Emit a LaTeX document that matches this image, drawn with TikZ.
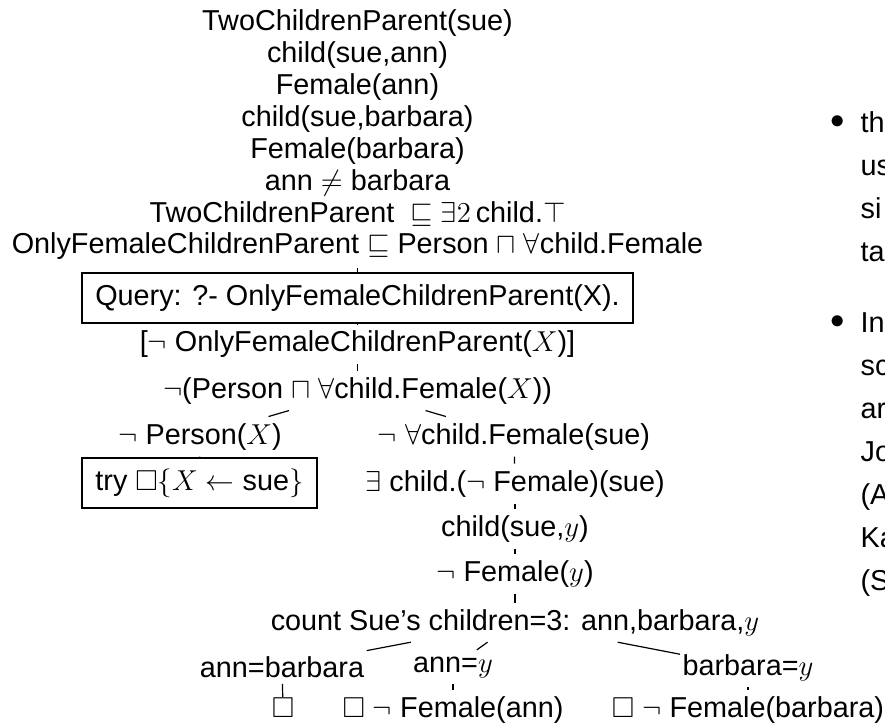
\documentclass[tikz,border=0pt]{standalone}
\usepackage{amssymb}
\usepackage[no-math]{fontspec}
\setmainfont{Liberation Sans}
\usetikzlibrary{matrix,positioning}

\begin{document}
\begin{tikzpicture}[x=0.5pt, y=-0.5pt, line width=0.6pt,
    font=\fontsize{14.4pt}{16pt}\selectfont,
    every node/.style={inner xsep=1pt, inner ysep=3pt},
    box/.style={draw, line width=0.9pt, minimum height=25pt},
    frag/.style={anchor=base west}]
  \useasboundingbox (0,0) rectangle (885,728);

  % knowledge base
  \matrix (F) at (357.5,1) [matrix of nodes, anchor=north, inner sep=3pt,
      nodes={inner sep=0pt, text height=11.5pt, text depth=3.5pt}, row sep=0.95pt] {
    TwoChildrenParent(sue) \\
    child(sue,ann) \\
    Female(ann) \\
    child(sue,barbara) \\
    Female(barbara) \\
    ann $\neq$ barbara \\
    TwoChildrenParent\ \ $\sqsubseteq \exists2$\,child.$\top$ \\
    OnlyFemaleChildrenParent $\sqsubseteq$ Person $\sqcap$ $\forall$child.Female \\
  };

  % tableau
  \node (Q) at (357.5,298) [box, minimum width=275.5pt] {Query: ?- OnlyFemaleChildrenParent(X).};
  \node (N) at (357.5,351) [anchor=base] {[$\neg$ OnlyFemaleChildrenParent($X$)]};
  \node (S) at (357.5,398) [anchor=base] {$\neg$(Person $\sqcap$ $\forall$child.Female($X$))};
  \node (NP) at (200,444) [anchor=base] {$\neg$ Person($X$)};
  \node (NA) at (514,444) [anchor=base] {$\neg$ $\forall$child.Female(sue)};
  \node (T) at (199.5,483) [box, minimum width=117.5pt] {try $\Box\{X\leftarrow$ sue$\}$};
  \node (EX) at (515,491) [anchor=base] {$\exists$ child.($\neg$ Female)(sue)};
  \node (CH) at (515,536) [anchor=base] {child(sue,$y$)};
  \node (NF) at (515,581) [anchor=base] {$\neg$ Female($y$)};
  \node (C) at (515,630) [anchor=base] {count Sue's children=3: ann,barbara,$y$};
  \node (AB) at (282,677) [anchor=base] {ann=barbara};
  \node (AY) at (453,672) [anchor=base] {ann=$y$};
  \node (BY) at (748,675) [anchor=base] {barbara=$y$};
  \node (E1) at (283,717) [anchor=base, inner ysep=0pt] {$\Box$};
  \node (E2) at (453,717) [anchor=base] {$\Box$ $\neg$ Female(ann)};
  \node (E3) at (748,717) [anchor=base] {$\Box$ $\neg$ Female(barbara)};

  \draw (F) -- (Q);
  \draw (Q) -- (N);
  \draw (N) -- (S);
  \draw (S) -- (NP);
  \draw (S) -- (NA);
  \draw (NP) -- (T);
  \draw (NA) -- (EX);
  \draw (EX) -- (CH);
  \draw (CH) -- (NF);
  \draw (NF) -- (C);
  \draw (C) -- (AB);
  \draw (C) -- (AY);
  \draw (C) -- (BY);
  \draw (AB) -- (E1);
  \draw (AY) -- (E2);
  \draw (BY) -- (E3);

  % bullet items, cut at the right edge
  \node (I1a) at (858,132) [frag] {th};
  \node (I1b) [below=21.5pt of I1a.base west, frag] {us};
  \node (I1c) [below=21.5pt of I1b.base west, frag] {si};
  \node (I1d) [below=21.5pt of I1c.base west, frag] {ta};
  \node (I2a) [below=35.5pt of I1d.base west, frag] {In};
  \node (I2b) [below=21.5pt of I2a.base west, frag] {sc};
  \node (I2c) [below=21.5pt of I2b.base west, frag] {ar};
  \node (I2d) [below=21.5pt of I2c.base west, frag] {Jo};
  \node (I2e) [below=21.5pt of I2d.base west, frag] {(A};
  \node (I2f) [below=21.5pt of I2e.base west, frag] {Ka};
  \node (I2g) [below=21.5pt of I2f.base west, frag] {(S};
  \node (D1) [left=5.5pt of I1a] {$\bullet$};
  \node (D2) [left=5.5pt of I2a] {$\bullet$};
\end{tikzpicture}
\end{document}
